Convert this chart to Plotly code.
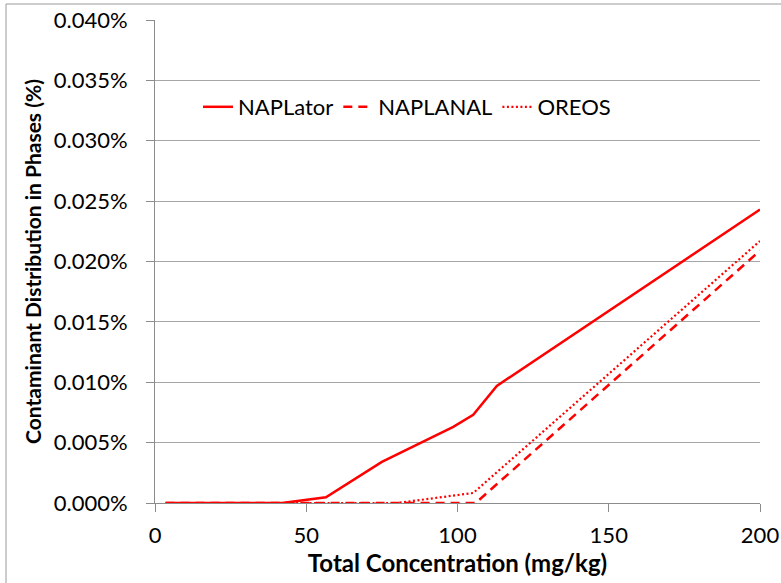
import plotly.graph_objects as go

# Total concentration (mg/kg) and fraction of contaminant in phases
naplator_x = [3.5, 42, 56.5, 75, 98.6, 105.2, 113, 200]
naplator_y = [0.0, 0.0, 0.0000047, 0.000034, 0.000063, 0.000073, 0.000097, 0.000243]

naplanal_x = [3.5, 106, 200]
naplanal_y = [0.0, 0.0, 0.000209]

oreos_x = [3.5, 80, 105.2, 200]
oreos_y = [0.0, 0.0, 0.0000083, 0.000217]

x_ticks = [0, 50, 100, 150, 200]
y_ticks = [0.0, 0.00005, 0.0001, 0.00015, 0.0002, 0.00025, 0.0003, 0.00035, 0.0004]

RED = "#ff0000"
AXIS = "#8c8c8c"
FONT = "Lato"

fig = go.Figure()
fig.add_trace(go.Scatter(x=naplator_x, y=naplator_y, mode="lines", name="NAPLator",
                         line=dict(color=RED, width=2.5)))
fig.add_trace(go.Scatter(x=naplanal_x, y=naplanal_y, mode="lines", name="NAPLANAL",
                         line=dict(color=RED, width=2.5, dash="9px,6px")))
fig.add_trace(go.Scatter(x=oreos_x, y=oreos_y, mode="lines", name="OREOS",
                         line=dict(color=RED, width=2.2, dash="2px,2.5px")))

L, R, T, B = 155, 21, 20, 80
W, H = 781, 583
pw, ph = W - L - R, H - T - B

fig.update_layout(
    width=W, height=H,
    margin=dict(l=L, r=R, t=T, b=B),
    paper_bgcolor="white", plot_bgcolor="white",
    font=dict(family=FONT, size=22, color="#000000"),
    showlegend=True,
    legend=dict(orientation="h", x=(198 - L) / pw, y=(H - B - 107) / ph,
                xanchor="left", yanchor="middle", bgcolor="rgba(0,0,0,0)",
                font=dict(family=FONT, size=22), itemwidth=30, tracegroupgap=0),
    xaxis=dict(range=[0, 200], tickvals=x_ticks, ticks="outside", ticklen=8,
               tickcolor=AXIS, showline=True, linecolor=AXIS, linewidth=1,
               showgrid=False, zeroline=False, ticklabelstandoff=5,
               automargin=False,
               title=dict(text="<b>Total Concentration (mg/kg)</b>",
                          font=dict(family=FONT, size=24), standoff=4)),
    yaxis=dict(range=[0, 0.0004], tickvals=y_ticks, tickformat=".3%",
               ticks="outside", ticklen=8, tickcolor=AXIS, showline=True,
               linecolor=AXIS, linewidth=1, showgrid=True, gridcolor="#a6a6a6",
               gridwidth=1, zeroline=False, ticklabelstandoff=14,
               automargin=False,
               title=dict(text="<b>Contaminant Distribution in Phases (%)</b>",
                          font=dict(family=FONT, size=21), standoff=6)),
    shapes=[dict(type="rect", xref="paper", yref="paper",
                 x0=(6 - L) / pw, x1=(W + 5 - L) / pw,
                 y0=-(B + 5) / ph, y1=(H - B - 4) / ph,
                 line=dict(color="#9a9a9a", width=1), layer="below")],
)

fig.write_html("out.html")
